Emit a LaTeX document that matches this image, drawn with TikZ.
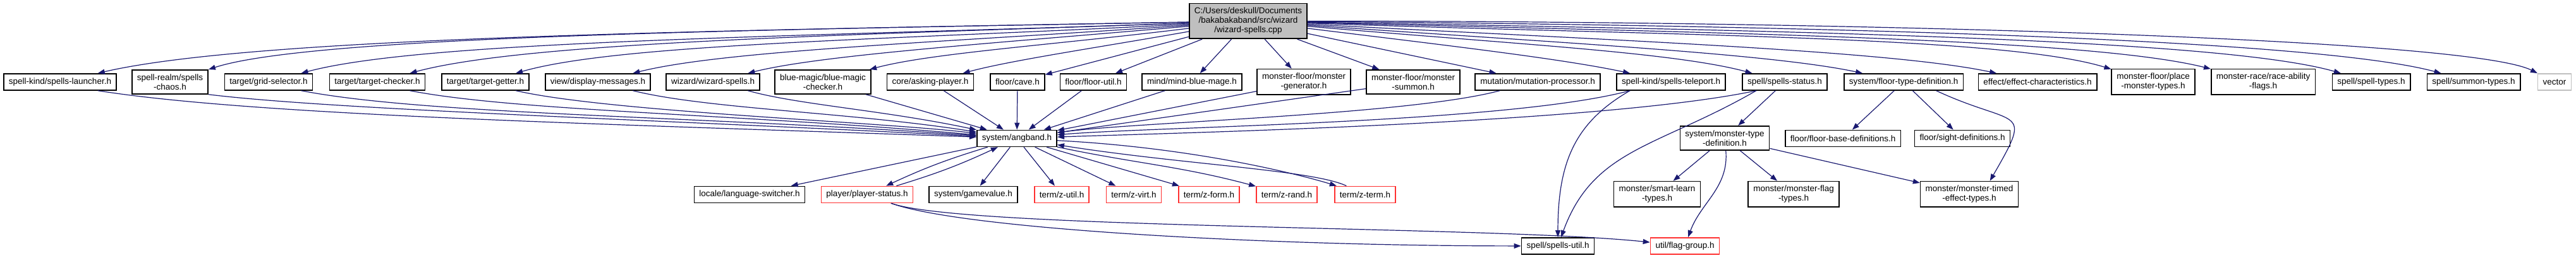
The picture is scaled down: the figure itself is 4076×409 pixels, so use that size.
\documentclass[tikz,border=0pt]{standalone}
\usepackage{fontspec}
\setmainfont{Liberation Sans}
\usetikzlibrary{arrows.meta}

\definecolor{edgeblue}{HTML}{191970}
\definecolor{truncred}{HTML}{FF3030}
\definecolor{extgray}{HTML}{BFBFBF}
\definecolor{srcgray}{HTML}{BFBFBF}

\begin{document}
\begin{tikzpicture}[
        x=0.05pt, y=0.05pt,
        every node/.style={font=\fontsize{0.675pt}{0.75pt}\selectfont},
        hdr/.style={
            rectangle, draw=black, line width=0.08pt, fill=white,
            align=center, minimum height=1.3pt,
            inner xsep=0.4pt, inner ysep=0.33pt
        },
        hdrtrunc/.style={hdr, draw=truncred},
        hdrext/.style={hdr, draw=extgray},
        srcfile/.style={hdr, fill=srcgray},
        arr/.style={-{Triangle[length=0.55pt, width=0.4pt]}, line width=0.06pt, draw=edgeblue}
        ]

    \useasboundingbox (0,0) rectangle (4076,-409);

    % --- source file ---
        \node[srcfile] (wizcpp) at (1975,-33.5)
            {C:/Users/deskull/Documents\\/bakabakaband/src/wizard\\/wizard-spells.cpp};

    % --- row 1: direct includes ---
        \node[hdr] (launcher) at (95,-130) {spell-kind/spells-launcher.h};
        \node[hdr] (chaos) at (269,-130) {spell-realm/spells\\-chaos.h};
        \node[hdr] (gridsel) at (425,-130) {target/grid-selector.h};
        \node[hdr] (tchecker) at (597,-130) {target/target-checker.h};
        \node[hdr] (tgetter) at (768,-130) {target/target-getter.h};
        \node[hdr] (dispmsg) at (946,-130) {view/display-messages.h};
        \node[hdr] (wizspells) at (1128,-130) {wizard/wizard-spells.h};
        \node[hdr] (bluemagic) at (1302,-130) {blue-magic/blue-magic\\-checker.h};
        \node[hdr] (asking) at (1472,-130) {core/asking-player.h};
        \node[hdr] (cave) at (1610,-130) {floor/cave.h};
        \node[hdr] (floorutil) at (1730,-130) {floor/floor-util.h};
        \node[hdr] (mindblue) at (1886,-130) {mind/mind-blue-mage.h};
        \node[hdr] (mongen) at (2063,-130) {monster-floor/monster\\-generator.h};
        \node[hdr] (monsummon) at (2236,-130) {monster-floor/monster\\-summon.h};
        \node[hdr] (mutation) at (2433,-130) {mutation/mutation-processor.h};
        \node[hdr] (teleport) at (2644,-130) {spell-kind/spells-teleport.h};
        \node[hdr] (spstatus) at (2824,-130) {spell/spells-status.h};
        \node[hdr] (floortype) at (3012,-130) {system/floor-type-definition.h};
        \node[hdr] (effectchar) at (3224,-130) {effect/effect-characteristics.h};
        \node[hdr] (placemon) at (3407,-130) {monster-floor/place\\-monster-types.h};
        \node[hdr] (raceflags) at (3581,-130) {monster-race/race-ability\\-flags.h};
        \node[hdr] (spelltypes) at (3752,-130) {spell/spell-types.h};
        \node[hdr] (summontypes) at (3914,-130) {spell/summon-types.h};
        \node[hdrext] (vector) at (4042,-130) {vector};

    % --- row 2 ---
        \node[hdr] (angband) at (1609,-219.5) {system/angband.h};
        \node[hdr] (montype) at (2729,-219) {system/monster-type\\-definition.h};
        \node[hdr] (floorbase) at (2916,-219.5) {floor/floor-base-definitions.h};
        \node[hdr] (sightdef) at (3105,-219.5) {floor/sight-definitions.h};

    % --- row 3 ---
        \node[hdr] (langsw) at (1186,-308.5) {locale/language-switcher.h};
        \node[hdrtrunc] (pstatus) at (1372,-308.5) {player/player-status.h};
        \node[hdr] (gamevalue) at (1540,-308.5) {system/gamevalue.h};
        \node[hdrtrunc] (zutil) at (1680,-308.5) {term/z-util.h};
        \node[hdrtrunc] (zvirt) at (1794,-308.5) {term/z-virt.h};
        \node[hdrtrunc] (zform) at (1913,-308.5) {term/z-form.h};
        \node[hdrtrunc] (zrand) at (2036,-308.5) {term/z-rand.h};
        \node[hdrtrunc] (zterm) at (2160,-308.5) {term/z-term.h};
        \node[hdr] (smartlearn) at (2622,-308) {monster/smart-learn\\-types.h};
        \node[hdr] (monflag) at (2838,-308) {monster/monster-flag\\-types.h};
        \node[hdr] (montimed) at (3116,-308) {monster/monster-timed\\-effect-types.h};

    % --- row 4 ---
        \node[hdr] (spellsutil) at (2465,-390) {spell/spells-util.h};
        \node[hdrtrunc] (flaggroup) at (2666,-390) {util/flag-group.h};

    % --- includes of the source file ---
        \draw[arr] (wizcpp) to[out=181, in=13, out distance=40pt, in distance=12.5pt] (launcher);
        \draw[arr] (wizcpp) to[out=181, in=18, out distance=35pt, in distance=8.5pt] (chaos);
        \draw[arr] (wizcpp) to[out=182, in=15, out distance=32pt, in distance=10pt] (gridsel);
        \draw[arr] (wizcpp) to[out=182, in=15, out distance=28pt, in distance=9.5pt] (tchecker);
        \draw[arr] (wizcpp) to[out=183, in=16, out distance=24pt, in distance=8.5pt] (tgetter);
        \draw[arr] (wizcpp) to[out=184, in=14, out distance=20pt, in distance=7.5pt] (dispmsg);
        \draw[arr] (wizcpp) to[out=185, in=14, out distance=16pt, in distance=6pt] (wizspells);
        \draw[arr] (wizcpp) to[out=187, in=15, out distance=11pt, in distance=5pt] (bluemagic);
        \draw[arr] (wizcpp) to[out=190, in=15, out distance=7.5pt, in distance=4pt] (asking);
        \draw[arr] (wizcpp) -- (cave);
        \draw[arr] (wizcpp) -- (floorutil);
        \draw[arr] (wizcpp) -- (mindblue);
        \draw[arr] (wizcpp) -- (mongen);
        \draw[arr] (wizcpp) -- (monsummon);
        \draw[arr] (wizcpp) -- (mutation);
        \draw[arr] (wizcpp) to[out=-7, in=168, out distance=11.5pt, in distance=5.5pt] (teleport);
        \draw[arr] (wizcpp) to[out=-5, in=165, out distance=16pt, in distance=6.5pt] (spstatus);
        \draw[arr] (wizcpp) to[out=-4, in=168, out distance=20pt, in distance=7.5pt] (floortype);
        \draw[arr] (wizcpp) to[out=-3, in=168, out distance=25pt, in distance=8.5pt] (effectchar);
        \draw[arr] (wizcpp) to[out=-2, in=163, out distance=28.5pt, in distance=9pt] (placemon);
        \draw[arr] (wizcpp) to[out=-1.5, in=166, out distance=32pt, in distance=10pt] (raceflags);
        \draw[arr] (wizcpp) to[out=-1, in=164, out distance=37pt, in distance=10pt] (spelltypes);
        \draw[arr] (wizcpp) to[out=-0.5, in=165, out distance=40.5pt, in distance=10.5pt] (summontypes);
        \draw[arr] (wizcpp) to[out=0, in=153, out distance=44pt, in distance=6pt] (vector);

    % --- row 1 into system/angband.h ---
        \draw[arr] (launcher.347) to[out=-9, in=178, out distance=12.5pt, in distance=30pt] (angband);
        \draw[arr] (chaos.south east) to[out=-7, in=177, out distance=10pt, in distance=25pt] (angband);
        \draw[arr] (gridsel.345) to[out=-11, in=176, out distance=10pt, in distance=22.5pt] (angband);
        \draw[arr] (tchecker.345) to[out=-11, in=175, out distance=8.5pt, in distance=19pt] (angband);
        \draw[arr] (tgetter.344) to[out=-13, in=173, out distance=7.5pt, in distance=7.5pt] (angband);
        \draw[arr] (dispmsg.346) to[out=-14, in=171, out distance=6pt, in distance=10pt] (angband);
        \draw[arr] (wizspells.346) to[out=-16, in=168, out distance=4pt, in distance=7.5pt] (angband);
        \draw[arr] (bluemagic) -- (angband);
        \draw[arr] (asking) -- (angband);
        \draw[arr] (cave) -- (angband);
        \draw[arr] (floorutil) -- (angband);
        \draw[arr] (mindblue) -- (angband);
        \draw[arr] (mongen) -- (angband);
        \draw[arr] (monsummon) -- (angband);
        \draw[arr] (mutation.193) to[out=195, in=8, out distance=7.5pt, in distance=6pt] (angband);
        \draw[arr] (teleport.192) to[out=195, in=5, out distance=10pt, in distance=7.5pt] (angband);
        \draw[arr] (spstatus.197) to[out=192, in=2, out distance=12.5pt, in distance=9pt] (angband);

    % --- system/angband.h and its includes ---
        \draw[arr] (angband) -- (langsw);
        \draw[arr] (angband) to[bend right=4] (pstatus);
        \draw[arr] (pstatus) to[bend right=4] (angband);
        \draw[arr] (angband) -- (gamevalue);
        \draw[arr] (angband) -- (zutil);
        \draw[arr] (angband) -- (zvirt);
        \draw[arr] (angband) -- (zform);
        \draw[arr] (angband) to[out=-12, in=165] (zrand);
        \draw[arr] (angband) to[out=-3, in=163, out distance=11pt, in distance=3pt] (zterm);
        \draw[arr] (zterm) to[out=155, in=-9, out distance=3pt, in distance=10pt] (angband);

    % --- player/player-status.h ---
        \draw[arr] (pstatus) to[out=-20, in=180, out distance=6pt, in distance=20pt] (spellsutil);
        \draw[arr] (pstatus) to[out=-20, in=174, out distance=6pt, in distance=12.5pt] (flaggroup);

    % --- spell branch ---
        \draw[arr] (teleport.192) to[out=210, in=90, out distance=5pt, in distance=6pt] (spellsutil);
        \draw[arr] (spstatus.197) to[out=210, in=70, out distance=9pt, in distance=7.5pt] (spellsutil);
        \draw[arr] (spstatus) -- (montype);

    % --- system/monster-type-definition.h ---
        \draw[arr] (montype) -- (smartlearn);
        \draw[arr] (montype) to[out=-85, in=70] (flaggroup);
        \draw[arr] (montype) -- (monflag);
        \draw[arr] (montype) -- (montimed);

    % --- system/floor-type-definition.h ---
        \draw[arr] (floortype) -- (floorbase);
        \draw[arr] (floortype) -- (sightdef);
        \draw[arr] (floortype.345) to[out=-25, in=60, out distance=7pt, in distance=7pt] (montimed.33);

    \end{tikzpicture}
\end{document}
